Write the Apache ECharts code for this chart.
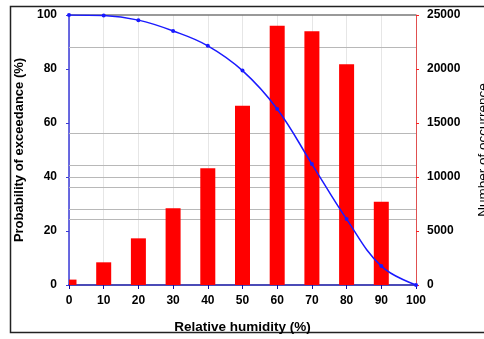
<!DOCTYPE html>
<html><head><meta charset="utf-8">
<script src="https://cdn.jsdelivr.net/npm/echarts@6/dist/echarts.min.js"></script>
<style>html,body{margin:0;padding:0;background:#fff}#c{width:484px;height:339px}</style>
</head><body><div id="c"></div>
<script>
const humidity = [0, 10, 20, 30, 40, 50, 60, 70, 80, 90, 100];
const exceedance = [100, 99.8, 98.1, 94.1, 88.6, 79.4, 65.2, 44.8, 24.4, 7.0, 0];
const barHumidity = [0, 10, 20, 30, 40, 50, 60, 70, 80, 90];
const occurrence = [500, 2100, 4320, 7100, 10800, 16600, 24000, 23500, 20430, 7710];
const refLines = [88.1, 56.3, 44.4, 40, 36.3, 28.1, 24.4];

const chart = echarts.init(document.getElementById('c'));
const lbl = {color:'#000', fontWeight:'bold', fontSize:12, fontFamily:'Liberation Sans, Arial'};
chart.setOption({
  animation:false,
  graphic:[{type:'rect', shape:{x:10.5,y:6.5,width:480,height:326}, style:{fill:'none', stroke:'#222', lineWidth:1.5}, z:-1}],
  grid:{left:69, right:68, top:15, bottom:54, containLabel:false, outerBoundsMode:'none'},
  xAxis:{type:'value', min:0, max:100, interval:10,
    name:'Relative humidity (%)', nameLocation:'middle', nameGap:35,
    nameTextStyle:{color:'#000', fontWeight:'bold', fontSize:13.5, fontFamily:'Liberation Sans, Arial'},
    axisLine:{lineStyle:{color:'#1010a0', width:1.5}},
    axisTick:{show:true, length:4, lineStyle:{color:'#1010a0'}},
    axisLabel:Object.assign({margin:10}, lbl),
    splitLine:{show:true, lineStyle:{color:'#e6e6e6', width:1}}},
  yAxis:[
    {type:'value', min:0, max:100, interval:20, position:'left',
     name:'Probability of exceedance (%)', nameLocation:'middle', nameGap:38, nameRotate:90,
     nameTextStyle:{color:'#000', fontWeight:'bold', fontSize:13, fontFamily:'Liberation Sans, Arial'},
     axisLine:{show:true, lineStyle:{color:'#3a3ad8', width:1.5}},
     axisTick:{show:true, length:3, lineStyle:{color:'#3a3ad8'}},
     axisLabel:Object.assign({margin:12}, lbl),
     splitLine:{show:false}},
    {type:'value', min:0, max:25000, interval:5000, position:'right',
     name:'Number of occurrence', nameLocation:'middle', nameGap:60, nameRotate:90,
     nameTextStyle:{color:'#000', fontSize:13.5, fontFamily:'Liberation Sans, Arial'},
     axisLine:{show:true, lineStyle:{color:'#e05050', width:1}},
     axisTick:{show:true, length:3, lineStyle:{color:'#ff2020'}},
     axisLabel:Object.assign({margin:11, formatter:v=>String(v)}, lbl),
     splitLine:{show:false}}
  ],
  series:[
    {type:'custom', yAxisIndex:1, z:2,
     data:barHumidity.map((h,i)=>[h, occurrence[i]]),
     encode:{x:0, y:1},
     renderItem:function(params, api){
       const top = api.coord([api.value(0), api.value(1)]);
       const base = api.coord([api.value(0), 0]);
       const w = 15;
       const shape = echarts.graphic.clipRectByRect(
         {x: top[0]-w/2, y: top[1], width: w, height: base[1]-top[1]},
         {x: params.coordSys.x, y: params.coordSys.y, width: params.coordSys.width, height: params.coordSys.height});
       return shape && {type:'rect', shape:shape, style:{fill:'#ff0000'}};
     }},
    {type:'line', yAxisIndex:0, smooth:0.4, symbol:'circle', symbolSize:4,
     lineStyle:{color:'#1a1aff', width:1.5}, itemStyle:{color:'#1a1aff'},
     data:humidity.map((h,i)=>[h, exceedance[i]]), z:3,
     markLine:{silent:true, symbol:'none', label:{show:false}, z:1,
       data:refLines.map(v=>({yAxis:v})).concat([{yAxis:100, lineStyle:{color:'#777', type:'solid', width:1.5}}]),
       lineStyle:{color:'#b8b8b8', type:'solid', width:1}}}
  ]
});
</script></body></html>
